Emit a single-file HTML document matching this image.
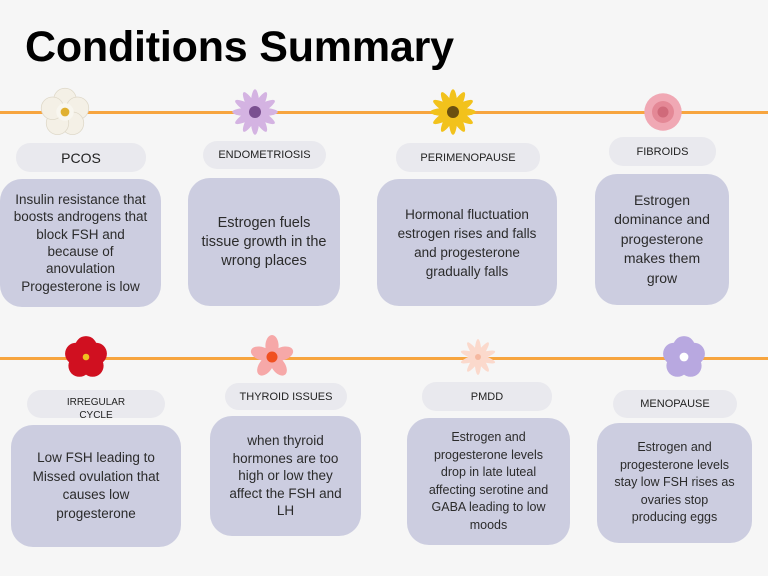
<!DOCTYPE html>
<html><head><style>
body{margin:0;width:768px;height:576px;background:#f6f6f6;position:relative;overflow:hidden;font-family:"Liberation Sans",sans-serif;color:#2b2b2b}
.t{position:absolute;left:25px;top:23px;font-size:43px;font-weight:bold;color:#000;letter-spacing:-0.2px}
.line{position:absolute;left:0;width:768px;height:3px;background:#f7a53f}
.lab{position:absolute;background:#e9e9ee;border-radius:14px;display:flex;align-items:center;justify-content:center;text-align:center;font-size:11px;color:#222}
.box{position:absolute;background:#cccde0;border-radius:22px;display:flex;align-items:center;justify-content:center;text-align:center;font-size:13.5px;line-height:18px;color:#2b2b2b;white-space:nowrap}
.f{position:absolute;width:40px;height:40px;transform:translate(-50%,-50%)}
</style></head><body>
<div class="t">Conditions Summary</div>
<div class="line" style="top:111px"></div>
<div class="line" style="top:357px"></div>

<svg class="f" style="left:65px;top:112px;width:50px;height:50px" viewBox="-20 -20 40 40"><g fill="#f4f0e6" stroke="#ded8c8" stroke-width="0.6"><circle cx="0" cy="-10" r="9"/><circle cx="10" cy="-3" r="9"/><circle cx="6" cy="9" r="9"/><circle cx="-6" cy="9" r="9"/><circle cx="-10" cy="-3" r="9"/></g><circle r="7" fill="#f8f6ef"/><circle r="3.5" fill="#e0b030"/></svg>
<svg class="f" style="left:255px;top:112px;width:48px;height:48px" viewBox="-20 -20 40 40"><g fill="#d4b3e2"><ellipse rx="4" ry="19"/><ellipse rx="4" ry="19" transform="rotate(30)"/><ellipse rx="4" ry="19" transform="rotate(60)"/><ellipse rx="4" ry="19" transform="rotate(90)"/><ellipse rx="4" ry="19" transform="rotate(120)"/><ellipse rx="4" ry="19" transform="rotate(150)"/></g><circle r="5" fill="#7a5090"/></svg>
<svg class="f" style="left:453px;top:112px;width:48px;height:48px" viewBox="-20 -20 40 40"><g fill="#f2c21c"><ellipse rx="4" ry="19"/><ellipse rx="4" ry="19" transform="rotate(30)"/><ellipse rx="4" ry="19" transform="rotate(60)"/><ellipse rx="4" ry="19" transform="rotate(90)"/><ellipse rx="4" ry="19" transform="rotate(120)"/><ellipse rx="4" ry="19" transform="rotate(150)"/></g><circle r="5" fill="#6a5010"/></svg>
<svg class="f" style="left:663px;top:112px;width:44px;height:44px" viewBox="-20 -20 40 40"><circle r="17" fill="#f0a8b4"/><circle r="10" fill="#e48896"/><circle r="5" fill="#d06a7a"/></svg>
<svg class="f" style="left:86px;top:357px;width:44px;height:44px" viewBox="-20 -20 40 40"><g fill="#d01020"><circle cx="0" cy="-9" r="10"/><circle cx="9" cy="-3" r="10"/><circle cx="6" cy="8" r="10"/><circle cx="-6" cy="8" r="10"/><circle cx="-9" cy="-3" r="10"/></g><circle r="3" fill="#f0c020"/></svg>
<svg class="f" style="left:272px;top:357px;width:44px;height:44px" viewBox="-20 -20 40 40"><g fill="#f6a8a8"><ellipse cx="0" cy="-10" rx="6" ry="10"/><ellipse cx="0" cy="-10" rx="6" ry="10" transform="rotate(72)"/><ellipse cx="0" cy="-10" rx="6" ry="10" transform="rotate(144)"/><ellipse cx="0" cy="-10" rx="6" ry="10" transform="rotate(216)"/><ellipse cx="0" cy="-10" rx="6" ry="10" transform="rotate(288)"/></g><circle r="5" fill="#f05020"/></svg>
<svg class="f" style="left:478px;top:357px" viewBox="-20 -20 40 40"><g fill="#fbd9cc"><ellipse rx="3.5" ry="18"/><ellipse rx="3.5" ry="18" transform="rotate(36)"/><ellipse rx="3.5" ry="18" transform="rotate(72)"/><ellipse rx="3.5" ry="18" transform="rotate(108)"/><ellipse rx="3.5" ry="18" transform="rotate(144)"/></g><circle r="3" fill="#f5b8a0"/></svg>
<svg class="f" style="left:684px;top:357px;width:44px;height:44px" viewBox="-20 -20 40 40"><g fill="#b8a8e0"><circle cx="0" cy="-9" r="10"/><circle cx="9" cy="-3" r="10"/><circle cx="6" cy="8" r="10"/><circle cx="-6" cy="8" r="10"/><circle cx="-9" cy="-3" r="10"/></g><circle r="4" fill="#fff"/></svg>

<div class="lab" style="left:16px;top:143px;width:130px;height:29px;font-size:14px">PCOS</div>
<div class="box" style="left:0;top:179px;width:161px;height:128px;line-height:17.3px">Insulin resistance that<br>boosts androgens that<br>block FSH and<br>because of<br>anovulation<br>Progesterone is low</div>
<div class="lab" style="left:203px;top:141px;width:123px;height:28px">ENDOMETRIOSIS</div>
<div class="box" style="left:188px;top:178px;width:152px;height:128px;font-size:14.5px;line-height:19px">Estrogen fuels<br>tissue growth in the<br>wrong places</div>
<div class="lab" style="left:396px;top:143px;width:144px;height:29px">PERIMENOPAUSE</div>
<div class="box" style="left:377px;top:179px;width:180px;height:127px;line-height:19px">Hormonal fluctuation<br>estrogen rises and falls<br>and progesterone<br>gradually falls</div>
<div class="lab" style="left:609px;top:137px;width:107px;height:29px">FIBROIDS</div>
<div class="box" style="left:595px;top:174px;width:134px;height:131px;font-size:14px;line-height:19.5px">Estrogen<br>dominance and<br>progesterone<br>makes them<br>grow</div>

<div class="lab" style="left:27px;top:390px;width:138px;height:28px;font-size:10px;line-height:13px;padding-top:10px;box-sizing:border-box">IRREGULAR<br>CYCLE</div>
<div class="box" style="left:11px;top:425px;width:170px;height:122px;line-height:18.5px">Low FSH leading to<br>Missed ovulation that<br>causes low<br>progesterone</div>
<div class="lab" style="left:225px;top:383px;width:122px;height:27px">THYROID ISSUES</div>
<div class="box" style="left:210px;top:416px;width:151px;height:120px;line-height:17.5px">when thyroid<br>hormones are too<br>high or low they<br>affect the FSH and<br>LH</div>
<div class="lab" style="left:422px;top:382px;width:130px;height:29px">PMDD</div>
<div class="box" style="left:407px;top:418px;width:163px;height:127px;font-size:12.5px;line-height:17.5px">Estrogen and<br>progesterone levels<br>drop in late luteal<br>affecting serotine and<br>GABA leading to low<br>moods</div>
<div class="lab" style="left:613px;top:390px;width:124px;height:28px">MENOPAUSE</div>
<div class="box" style="left:597px;top:423px;width:155px;height:120px;font-size:12.5px;line-height:17.5px">Estrogen and<br>progesterone levels<br>stay low FSH rises as<br>ovaries stop<br>producing eggs</div>
</body></html>
